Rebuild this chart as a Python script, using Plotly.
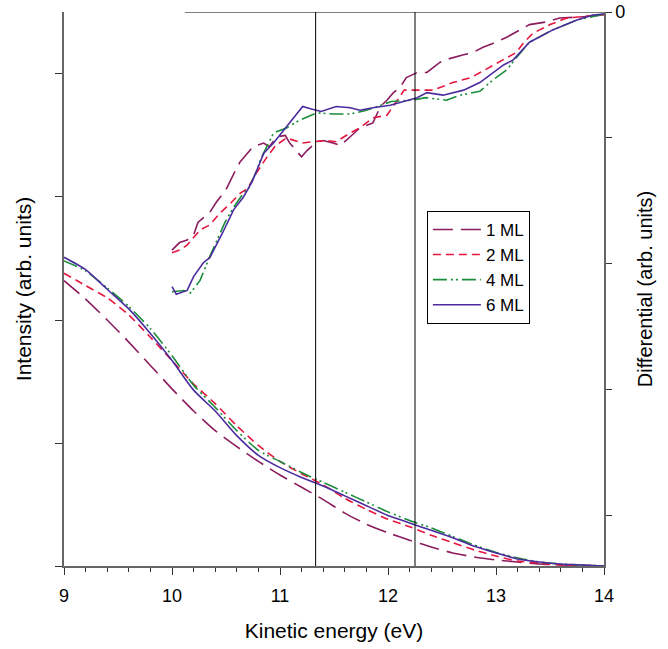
import plotly.graph_objects as go

# ---------------- data ----------------
labels = ["1 ML", "2 ML", "4 ML", "6 ML"]
colors = ["#8C1C5E", "#E5173F", "#1A8C3A", "#4B2C9E"]
dashes = ["20px,8px", "8px,5px", "14px,4px,2px,3px,2px,4px", "solid"]

# Intensity (left axis)
e_int = [9.0, 9.2, 9.4, 9.6, 9.8, 10.0, 10.2, 10.4, 10.6, 10.8, 11.0, 11.2, 11.4,
         11.6, 11.8, 12.0, 12.2, 12.4, 12.6, 12.8, 13.0, 13.2, 13.4, 13.6, 13.8, 14.0]
int_1ml = [2.32, 2.17, 2.00, 1.82, 1.63, 1.44, 1.26, 1.10, 0.97, 0.85, 0.74, 0.64, 0.54,
           0.43, 0.34, 0.27, 0.21, 0.155, 0.106, 0.073, 0.049, 0.033, 0.016, 0.008, 0.004, 0.0]
int_2ml = [2.38, 2.28, 2.18, 2.04, 1.86, 1.67, 1.48, 1.32, 1.14, 0.98, 0.85, 0.75, 0.66,
           0.55, 0.46, 0.38, 0.32, 0.25, 0.19, 0.13, 0.081, 0.04, 0.024, 0.008, 0.004, 0.0]
int_4ml = [2.48, 2.40, 2.26, 2.11, 1.93, 1.71, 1.47, 1.29, 1.10, 0.94, 0.85, 0.76, 0.68,
           0.60, 0.52, 0.44, 0.37, 0.31, 0.24, 0.17, 0.11, 0.065, 0.033, 0.016, 0.008, 0.0]
int_6ml = [2.51, 2.41, 2.25, 2.09, 1.89, 1.67, 1.43, 1.26, 1.06, 0.90, 0.80, 0.72, 0.65,
           0.57, 0.49, 0.41, 0.35, 0.29, 0.23, 0.16, 0.106, 0.057, 0.033, 0.016, 0.008, 0.0]

# Differential (right axis)
e_d1 = [10.00, 10.07, 10.14, 10.20, 10.24, 10.35, 10.41, 10.50, 10.58, 10.63, 10.75, 10.85,
        10.90, 10.97, 11.05, 11.09, 11.20, 11.25, 11.34, 11.40, 11.49, 11.56, 11.65, 11.74,
        11.86, 11.93, 11.99, 12.05, 12.11, 12.17, 12.27, 12.36, 12.48, 12.57, 12.70, 12.79,
        12.88, 12.97, 13.10, 13.22, 13.31, 13.46, 13.59, 13.78, 14.00]
d_1ml = [-1.89, -1.83, -1.81, -1.77, -1.67, -1.59, -1.51, -1.41, -1.27, -1.19, -1.07, -1.04,
         -1.07, -0.99, -0.98, -1.04, -1.15, -1.10, -1.03, -1.02, -1.04, -1.06, -0.99, -0.92,
         -0.88, -0.75, -0.70, -0.64, -0.60, -0.52, -0.48, -0.48, -0.40, -0.37, -0.34, -0.32,
         -0.28, -0.25, -0.20, -0.14, -0.10, -0.08, -0.048, -0.04, -0.024]

e_d2 = [10.00, 10.07, 10.14, 10.20, 10.26, 10.35, 10.44, 10.54, 10.63, 10.70, 10.78, 10.88,
        10.96, 11.06, 11.21, 11.30, 11.43, 11.52, 11.65, 11.74, 11.86, 11.99, 12.11, 12.15,
        12.42, 12.60, 12.77, 12.90, 13.06, 13.19, 13.25, 13.34, 13.50, 13.65, 13.93, 14.00]
d_2ml = [-1.91, -1.89, -1.85, -1.79, -1.73, -1.69, -1.60, -1.52, -1.44, -1.40, -1.28, -1.15,
         -1.06, -1.00, -1.04, -1.03, -1.02, -1.03, -0.96, -0.92, -0.84, -0.82, -0.67, -0.62,
         -0.62, -0.56, -0.52, -0.46, -0.38, -0.32, -0.25, -0.17, -0.10, -0.05, -0.024, -0.024]

e_d4 = [10.00, 10.11, 10.17, 10.26, 10.35, 10.43, 10.49, 10.57, 10.66, 10.71, 10.79, 10.82,
        10.94, 11.06, 11.18, 11.34, 11.49, 11.65, 11.80, 12.03, 12.22, 12.35, 12.54, 12.67,
        12.85, 12.97, 13.10, 13.19, 13.31, 13.53, 13.75, 14.00]
d_4ml = [-2.22, -2.21, -2.23, -2.13, -1.94, -1.79, -1.67, -1.55, -1.44, -1.40, -1.25, -1.17,
         -0.96, -0.92, -0.86, -0.80, -0.81, -0.81, -0.78, -0.71, -0.70, -0.68, -0.70, -0.66,
         -0.63, -0.54, -0.46, -0.36, -0.24, -0.14, -0.063, -0.016]

e_d6 = [10.00, 10.04, 10.14, 10.20, 10.29, 10.35, 10.47, 10.57, 10.66, 10.74, 10.85, 10.94,
        11.06, 11.21, 11.29, 11.38, 11.52, 11.65, 11.74, 11.86, 12.02, 12.11, 12.27, 12.36,
        12.51, 12.70, 12.85, 13.07, 13.16, 13.31, 13.53, 13.75, 13.90, 14.00]
d_6ml = [-2.18, -2.24, -2.21, -2.10, -1.99, -1.95, -1.75, -1.57, -1.47, -1.35, -1.12, -1.04,
         -0.91, -0.75, -0.77, -0.79, -0.75, -0.76, -0.78, -0.76, -0.74, -0.72, -0.68, -0.64,
         -0.66, -0.62, -0.56, -0.42, -0.38, -0.24, -0.14, -0.063, -0.024, -0.016]

marker_lines = [11.33, 12.25]   # vertical guide lines (eV)
zero_line_start = 10.12          # start of differential zero line

x_ticks = [9, 10, 11, 12, 13, 14]
left_ticks = [0, 1, 2, 3, 4]
right_ticks = [0, -1, -2, -3, -4]
right_ticktext = ["0", "", "", "", ""]

# ---------------- figure ----------------
FONT = "Liberation Sans, Arial, sans-serif"
fig = go.Figure()

int_series = [int_1ml, int_2ml, int_4ml, int_6ml]
diff_x = [e_d1, e_d2, e_d4, e_d6]
diff_y = [d_1ml, d_2ml, d_4ml, d_6ml]

for i, lab in enumerate(labels):
    fig.add_trace(go.Scatter(
        x=e_int, y=int_series[i], mode="lines", name=lab, legendgroup=lab,
        line=dict(color=colors[i], width=1.6, dash=dashes[i], shape="spline", smoothing=0.6),
        yaxis="y", showlegend=True))
for i, lab in enumerate(labels):
    fig.add_trace(go.Scatter(
        x=diff_x[i], y=diff_y[i], mode="lines", name=lab, legendgroup=lab,
        line=dict(color=colors[i], width=1.6, dash=dashes[i]),
        yaxis="y2", showlegend=False))

shapes = []
for xv in marker_lines:
    shapes.append(dict(type="line", xref="x", yref="paper", x0=xv, x1=xv, y0=0, y1=1,
                       line=dict(color="black", width=1)))
shapes.append(dict(type="line", xref="x", yref="y2", x0=zero_line_start, x1=x_ticks[-1],
                   y0=0, y1=0, line=dict(color="black", width=1)))

fig.update_layout(
    width=668, height=649,
    margin=dict(l=64, r=64, t=12, b=83, autoexpand=False),
    paper_bgcolor="white", plot_bgcolor="white",
    font=dict(family=FONT, size=18, color="black"),
    shapes=shapes,
    xaxis=dict(range=[9, 14], tickvals=x_ticks, showline=True, linecolor="#666666", linewidth=1.5,
               ticks="outside", ticklen=7, tickcolor="#333333", showgrid=False, zeroline=False,
               minor=dict(dtick=0.2, ticks="outside", ticklen=4, tickcolor="#333333"),
               tickfont=dict(size=18), ticklabelstandoff=6, automargin=False,
               title=dict(text="Kinetic energy (eV)", font=dict(size=21), standoff=18)),
    yaxis=dict(range=[0, 4.504], tickvals=left_ticks, showticklabels=False, showline=True,
               linecolor="#666666", linewidth=1.5, ticks="outside", ticklen=7, tickcolor="#333333",
               showgrid=False, zeroline=False, automargin=False,
               title=dict(text="Intensity (arb. units)", font=dict(size=21), standoff=18)),
    yaxis2=dict(range=[-4.397, 0], overlaying="y", side="right", anchor="x",
                tickvals=right_ticks, ticktext=right_ticktext, showline=True,
                linecolor="#666666", linewidth=1.5, ticks="outside", ticklen=6, tickcolor="#333333",
                showgrid=False, zeroline=False, tickfont=dict(size=18), automargin=False,
                title=dict(text="Differential (arb. units)", font=dict(size=20), standoff=14)),
    legend=dict(x=0.672, y=0.641, xanchor="left", yanchor="top", bordercolor="black",
                borderwidth=1, bgcolor="white", font=dict(size=17), itemwidth=48,
                tracegroupgap=0),
)

fig.write_html("out.html")
